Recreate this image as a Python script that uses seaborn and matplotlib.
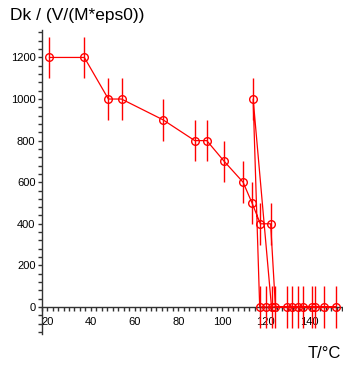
import numpy as np
import pandas as pd
import matplotlib
matplotlib.use("Agg")
import matplotlib.pyplot as plt
import seaborn as sns
from matplotlib.ticker import MultipleLocator

# Data (measurement order)
temperature = [21, 37, 48, 54, 73, 87.5, 93, 101, 109.6, 113.7, 117.5, 122.2,
               124.4, 129.9, 132.2, 134.7, 137, 141.3, 142.4, 146.5, 152,
               119.9, 117.2, 114.2, 122.6]
dk = [1200, 1200, 1000, 1000, 900, 800, 800, 700, 600, 500, 400, 400,
      0, 0, 0, 0, 0, 0, 0, 0, 0,
      0, 0, 1000, 0]
dk_err = [100] * len(dk)
x_ticks = [20, 40, 60, 80, 100, 120, 140]
y_ticks = [0, 200, 400, 600, 800, 1000, 1200]

df = pd.DataFrame({"T": temperature, "Dk": dk, "err": dk_err})

sns.set_style("white")
plt.rcParams["font.family"] = ["Liberation Sans", "DejaVu Sans"]

fig = plt.figure(figsize=(3.43, 3.65), dpi=100)
ax = fig.add_axes([41.7 / 343, 1 - 334 / 365, 1 - 41.7 / 343, (334 - 30) / 365])

red = "#ff0000"
ax.vlines(df["T"], df["Dk"] - df["err"], df["Dk"] + df["err"], color=red, lw=1.0, zorder=2)
sns.lineplot(data=df, x="T", y="Dk", sort=False, estimator=None, ax=ax,
             color=red, lw=0.9, marker="o", markersize=5.5,
             markerfacecolor="none", markeredgecolor=red, markeredgewidth=1.0,
             zorder=3)

ax.set_xlim(17.5, 155.3)
ax.set_ylim(-130, 1332)
ax.spines["top"].set_visible(False)
ax.spines["right"].set_visible(False)
ax.spines["bottom"].set_position(("data", 0))
for s in ("left", "bottom"):
    ax.spines[s].set_color("#333333")
    ax.spines[s].set_linewidth(1.0)

ax.set_xticks(x_ticks)
ax.set_xticklabels([str(v) for v in x_ticks])
ax.set_yticks(y_ticks)
ax.set_yticklabels([str(v) for v in y_ticks])
ax.xaxis.set_minor_locator(MultipleLocator(2.5))
ax.yaxis.set_minor_locator(MultipleLocator(40))
ax.tick_params(axis="both", which="both", direction="out", length=3,
               width=1.0, color="#333333", labelsize=8, labelcolor="black")
ax.tick_params(axis="x", which="both", bottom=True, pad=4)
ax.tick_params(axis="y", which="both", left=True, pad=1.5)
ax.set_xlabel("")
ax.set_ylabel("")
ax.grid(False)

fig.text(10 / 343, 1 - 20 / 365, "Dk / (V/(M*eps0))", fontsize=12.5, color="black",
         ha="left", va="baseline")
fig.text(308 / 343, 1 - 358 / 365, "T/°C", fontsize=12, color="black",
         ha="left", va="baseline")

fig.savefig("out.png", dpi=100)
